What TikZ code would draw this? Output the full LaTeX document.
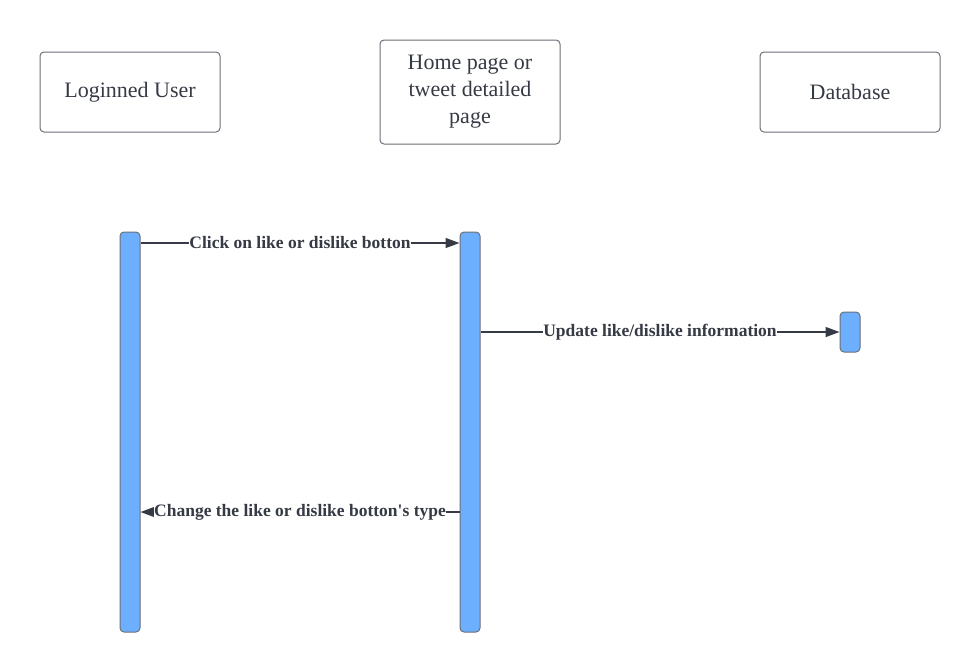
\documentclass[tikz,border=0pt]{standalone}
\usepackage{fontspec}
\setmainfont{Liberation Serif}
\usepackage{tikz}
\usepackage{xcolor}
\definecolor{barblue}{HTML}{6CAFFF}
\definecolor{edgegray}{HTML}{6B6F78}
\definecolor{inkdark}{HTML}{363A44}
\tikzset{
  actor/.style={draw=edgegray, line width=1pt, rounded corners=4pt, minimum width=180pt, text=inkdark, align=center, font=\fontsize{22}{27}\selectfont},
  lifebar/.style={draw=edgegray, fill=barblue, line width=1pt, rounded corners=4pt, minimum width=20pt, inner sep=0pt},
  msg/.style={draw=inkdark, line width=1.5pt, -{Triangle[length=14pt,width=10pt]}},
  msglabel/.style={fill=white, inner sep=0.5pt, text=inkdark, font=\fontsize{17.5}{20}\selectfont\bfseries}
}
\usetikzlibrary{arrows.meta}
\begin{document}
\begin{tikzpicture}[x=1pt, y=-1pt]
  \useasboundingbox (0,0) rectangle (980,672);
  % Participants
  \node[actor, minimum height=80pt] (user) at (130,92) {Loginned User};
  \node[actor, minimum height=104pt] (page) at (470,92) {Home page or\\tweet detailed\\page};
  \node[actor, minimum height=80pt] (db) at (850,92) {Database};
  % Activation bars
  \node[lifebar, minimum height=400pt] (ubar) at (130,432) {};
  \node[lifebar, minimum height=400pt] (pbar) at (470,432) {};
  \node[lifebar, minimum height=40pt] (dbar) at (850,332) {};
  % Messages
  \draw[msg] (ubar.east |- 0,243) -- (pbar.west |- 0,243) node[msglabel, midway] {Click on like or dislike botton};
  \draw[msg] (pbar.east |- dbar.west) -- (dbar.west) node[msglabel, midway] {Update like/dislike information};
  \draw[msg] (pbar.west |- 0,512) -- (ubar.east |- 0,512) node[msglabel, midway] {Change the like or dislike botton\textquotesingle s type};
\end{tikzpicture}
\end{document}
